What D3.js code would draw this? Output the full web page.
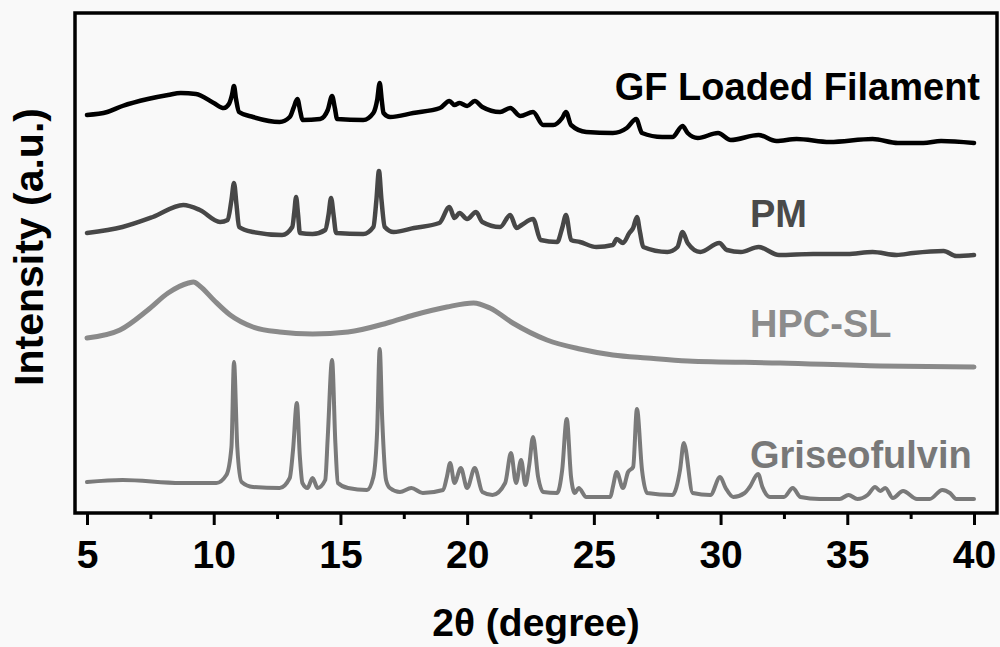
<!DOCTYPE html>
<html>
<head>
<meta charset="utf-8">
<script src="https://cdn.jsdelivr.net/npm/d3@7"></script>
<style>
  body { margin: 0; background: #f9f9f9; }
  svg { display: block; font-family: "Liberation Sans", Arial, sans-serif; font-weight: bold; }
</style>
</head>
<body>
<svg id="grafiek" width="1000" height="647"></svg>
<script>
// XRD patronen, [2theta, intensiteit] (al gestapeld, willekeurige eenheden)
const gfFilament = [
  [5.0, 398], [5.8, 401], [6.4, 407], [7.4, 414], [8.2, 418], [8.7, 420], [9.3, 419], [10.0, 410],
  [10.4, 405], [10.6, 409], [10.72, 418], [10.8, 427], [10.88, 414], [11.0, 401], [11.55, 396],
  [12.6, 391], [13.0, 396], [13.15, 405], [13.3, 414], [13.42, 401], [13.5, 393], [14.2, 394],
  [14.5, 403], [14.67, 417], [14.78, 405], [14.87, 394], [15.9, 393], [16.3, 400], [16.45, 413],
  [16.55, 430], [16.63, 413], [16.7, 400], [16.96, 396], [17.87, 400], [18.93, 405], [19.3, 412],
  [19.5, 408], [19.7, 410], [20.0, 407], [20.3, 412], [20.6, 406], [21.3, 401], [21.7, 405],
  [22.1, 397], [22.6, 401], [23.0, 388], [23.4, 388], [23.75, 395], [23.9, 401], [24.1, 388],
  [24.7, 381], [25.75, 380], [26.3, 385], [26.67, 394], [26.9, 380], [27.7, 376], [28.1, 376],
  [28.5, 387], [28.7, 380], [29.1, 375], [29.9, 380], [30.4, 373], [31.5, 378], [32.2, 372],
  [33.0, 374], [34.3, 371], [36.0, 374], [37.0, 370], [38.0, 370], [38.7, 372], [40.0, 370]
];

const physicalMixture = [
  [5.0, 280], [6.4, 286], [7.6, 296], [8.8, 308], [9.45, 303], [10.25, 291], [10.55, 293],
  [10.7, 313], [10.8, 330], [10.9, 308], [11.0, 286], [11.55, 281], [12.7, 278], [13.1, 286],
  [13.18, 301], [13.25, 316], [13.33, 298], [13.4, 280], [13.9, 279], [14.4, 283], [14.53, 298],
  [14.63, 315], [14.73, 298], [14.83, 280], [15.9, 279], [16.3, 286], [16.42, 313], [16.52, 342],
  [16.62, 313], [16.75, 286], [17.1, 281], [17.9, 285], [18.9, 290], [19.3, 306], [19.5, 295],
  [19.7, 300], [20.0, 294], [20.35, 301], [20.6, 291], [21.3, 286], [21.7, 298], [21.95, 285],
  [22.15, 288], [22.6, 294], [22.9, 273], [23.55, 271], [23.75, 285], [23.9, 298], [24.1, 273],
  [24.45, 271], [25.1, 266], [25.75, 268], [25.9, 274], [26.15, 270], [26.4, 280], [26.55, 285],
  [26.7, 296], [26.82, 281], [26.95, 266], [27.9, 261], [28.3, 266], [28.5, 281], [28.7, 270],
  [29.2, 261], [29.95, 270], [30.25, 263], [30.8, 261], [31.5, 266], [32.3, 258], [33.65, 259],
  [35.0, 259], [36.0, 261], [36.95, 258], [37.6, 260], [38.8, 262], [39.3, 257], [40.0, 258]
];

const hpcSL = [
  [5.0, 175], [6.3, 183], [7.4, 203], [8.2, 220], [9.0, 230], [9.2, 231], [9.45, 227], [10.0, 213],
  [10.65, 198], [11.55, 186], [12.6, 181], [13.9, 179], [15.3, 181], [16.85, 190], [17.9, 198],
  [19.2, 206], [20.25, 210], [20.9, 205], [21.8, 190], [23.15, 173], [24.45, 164], [25.75, 158],
  [27.1, 155], [28.7, 152], [32.35, 150], [36.3, 147], [40.0, 146]
];

const griseofulvin = [
  [5.0, 31], [6.4, 33], [8.7, 30], [10.1, 30], [10.5, 38], [10.7, 66], [10.8, 151], [10.93, 66],
  [11.1, 31], [11.55, 26], [12.6, 25], [13.0, 35], [13.13, 63], [13.28, 110], [13.4, 56], [13.5, 30],
  [13.7, 25], [13.9, 35], [14.1, 25], [14.4, 33], [14.5, 76], [14.67, 153], [14.8, 70], [14.9, 30],
  [15.3, 25], [16.05, 23], [16.3, 36], [16.45, 83], [16.55, 164], [16.65, 93], [16.8, 33],
  [16.95, 25], [17.35, 21], [17.8, 25], [18.25, 20], [19.05, 23], [19.2, 36], [19.33, 50],
  [19.5, 30], [19.75, 45], [20.0, 25], [20.3, 45], [20.6, 21], [21.0, 18], [21.5, 30], [21.73, 60],
  [21.93, 30], [22.13, 53], [22.3, 28], [22.45, 48], [22.6, 76], [22.8, 36], [23.0, 21], [23.55, 20],
  [23.75, 43], [23.93, 94], [24.1, 36], [24.25, 20], [24.4, 25], [24.7, 16], [25.65, 16], [25.75, 26],
  [25.9, 41], [26.15, 25], [26.35, 41], [26.55, 46], [26.7, 104], [26.9, 43], [27.1, 20], [28.1, 18],
  [28.4, 43], [28.55, 70], [28.9, 20], [29.6, 18], [29.98, 36], [30.2, 25], [30.5, 16], [30.95, 20],
  [31.15, 26], [31.48, 39], [31.65, 26], [31.95, 16], [32.5, 16], [32.85, 25], [33.15, 16],
  [33.9, 14], [34.7, 14], [35.05, 18], [35.4, 14], [35.8, 18], [36.1, 26], [36.3, 22], [36.5, 25],
  [36.8, 15], [37.2, 22], [37.75, 14], [38.25, 14], [38.75, 23], [39.05, 20], [39.3, 14], [40.0, 14]
];

const seriesNames = ["GF Loaded Filament", "PM", "HPC-SL", "Griseofulvin"];
const xTicks = [5, 10, 15, 20, 25, 30, 35, 40];
const xMinorTicks = [7.5, 12.5, 17.5, 22.5, 27.5, 32.5, 37.5];

// stijl per lijn
const series = [gfFilament, physicalMixture, hpcSL, griseofulvin];
const lineColors = ["#000000", "#474747", "#8a8a8a", "#7a7a7a"];
const lineWidths = [4.5, 4.5, 5, 4];
const labelColors = ["#000000", "#4a4a4a", "#8c8c8c", "#787878"];
const labelPos = [[980, 100, "end"], [750, 227, "start"], [750, 337, "start"], [750, 468, "start"]];

const svg = d3.select('#grafiek');

//schalen
const x = d3.scaleLinear().domain([5, 40]).range([87, 974]);
const y = d3.scaleLinear().domain([0, 500]).range([513, 13]);

const line = d3.line()
  .x(d => x(d[0]))
  .y(d => y(d[1]))
  .curve(d3.curveMonotoneX);

//lijnen
svg.selectAll('path.trace')
  .data(series)
  .join('path')
  .attr('class', 'trace')
  .attr('d', line)
  .attr('fill', 'none')
  .attr('stroke', (d, i) => lineColors[i])
  .attr('stroke-width', (d, i) => lineWidths[i])
  .attr('stroke-linejoin', 'round')
  .attr('stroke-linecap', 'round');

//namen
svg.selectAll('text.naam')
  .data(seriesNames)
  .join('text')
  .attr('class', 'naam')
  .attr('x', (d, i) => labelPos[i][0])
  .attr('y', (d, i) => labelPos[i][1])
  .attr('text-anchor', (d, i) => labelPos[i][2])
  .attr('fill', (d, i) => labelColors[i])
  .attr('font-size', 38)
  .text(d => d);

//kader
svg.append('rect')
  .attr('x', 75).attr('y', 13)
  .attr('width', 922).attr('height', 500)
  .attr('fill', 'none')
  .attr('stroke', '#000')
  .attr('stroke-width', 3.5);

//x-as
const xAxis = svg.append('g')
  .attr('transform', 'translate(0,513)')
  .call(d3.axisBottom(x).tickValues(xTicks).tickSize(12).tickFormat(d3.format('d')));
xAxis.select('.domain').remove();
xAxis.selectAll('line').attr('stroke-width', 3);
xAxis.selectAll('text')
  .attr('y', 55).attr('dy', 0)
  .attr('font-size', 39)
  .attr('font-family', '"Liberation Sans", Arial, sans-serif')
  .attr('font-weight', 'bold')
  .attr('fill', '#000');

const minor = svg.append('g')
  .attr('transform', 'translate(0,513)')
  .call(d3.axisBottom(x).tickValues(xMinorTicks).tickSize(6).tickFormat(''));
minor.select('.domain').remove();
minor.selectAll('line').attr('stroke-width', 3);

//as titels
svg.append('text')
  .attr('x', 536).attr('y', 636)
  .attr('text-anchor', 'middle')
  .attr('font-size', 39)
  .text('2θ (degree)');

svg.append('text')
  .attr('transform', 'translate(43,247) rotate(-90)')
  .attr('text-anchor', 'middle')
  .attr('font-size', 41)
  .text('Intensity (a.u.)');
</script>
</body>
</html>
